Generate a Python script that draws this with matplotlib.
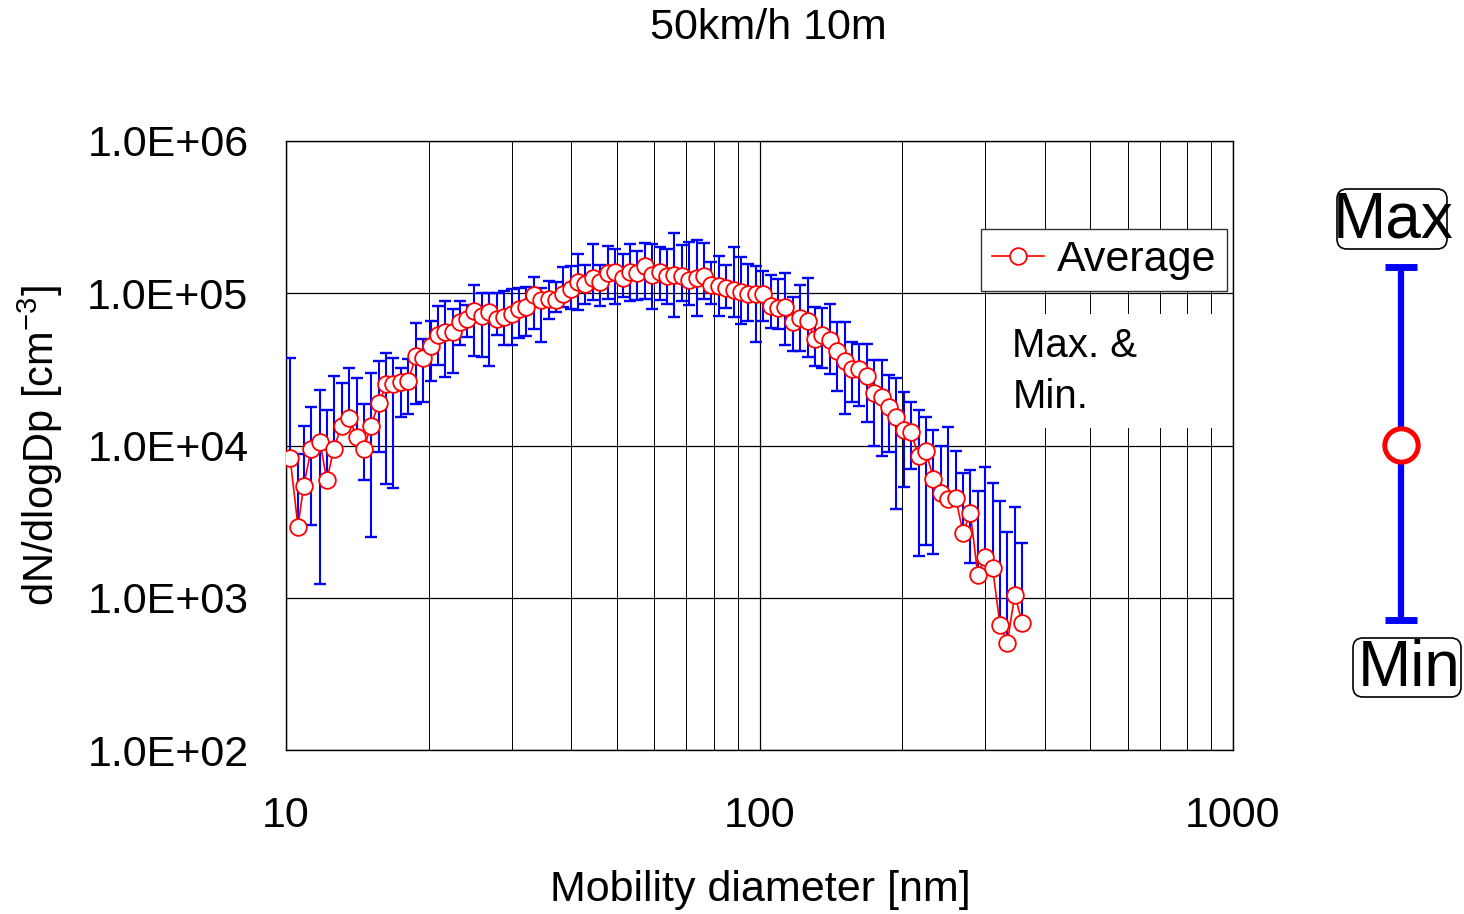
import matplotlib
matplotlib.use("Agg")
import matplotlib.pyplot as plt
from matplotlib.ticker import FixedLocator, FixedFormatter, LogLocator, NullLocator, NullFormatter
from matplotlib.patches import Rectangle, FancyBboxPatch
import numpy as np

plt.rcParams['font.family'] = ['Liberation Sans', 'DejaVu Sans']

# SMPS channel mid-points [nm]
diameter = [10.2, 10.6, 10.9, 11.3, 11.8, 12.2, 12.6, 13.1, 13.6, 14.1,
            14.6, 15.1, 15.7, 16.3, 16.8, 17.5, 18.1, 18.8, 19.5, 20.2,
            20.9, 21.7, 22.5, 23.3, 24.1, 25.0, 25.9, 26.9, 27.9, 28.9,
            30.0, 31.1, 32.2, 33.4, 34.6, 35.9, 37.2, 38.5, 40.0, 41.4,
            42.9, 44.5, 46.1, 47.8, 49.6, 51.4, 53.3, 55.2, 57.3, 59.4,
            61.5, 63.8, 66.1, 68.5, 71.0, 73.7, 76.4, 79.1, 82.0, 85.1,
            88.2, 91.4, 94.7, 98.2, 101.8, 105.5, 109.4, 113.4, 117.6, 121.9,
            126.3, 131.0, 135.8, 140.7, 145.9, 151.2, 156.8, 162.5, 168.5, 174.7,
            181.1, 187.7, 194.6, 201.7, 209.1, 216.7, 224.7, 232.9, 241.4, 250.3,
            259.5, 269.0, 278.8, 289.0, 299.6, 310.6, 322.0, 333.8, 346.0, 358.7]

# dN/dlogDp [cm-3]
average = [8340, 2930, 5460, 9420, 10500, 5890, 9420, 13500, 15100, 11300,
           9420, 13500, 18900, 25200, 25200, 26000, 26400, 38500, 37300, 44800,
           53000, 55400, 55400, 64500, 67400, 76100, 70600, 75000, 67400, 69500,
           72700, 78500, 80900, 97000, 89900, 91300, 89900, 98500, 106000, 118000,
           115000, 126000, 118000, 135000, 137000, 126000, 137000, 135000, 150000, 131000,
           137000, 129000, 131000, 129000, 122000, 126000, 129000, 113000, 111000, 108000,
           105000, 102000, 98500, 98500, 98500, 82100, 79700, 80900, 64500, 68500,
           65400, 49800, 53000, 49100, 41500, 35700, 31600, 31600, 28400, 22000,
           20700, 17800, 15300, 12700, 12200, 8470, 9140, 6070, 4910, 4480,
           4550, 2680, 3620, 1420, 1860, 1570, 664, 506, 1050, 685]

maximum = [37300, 8730, 13500, 17800, 23300, 17000, 28400, 25600, 32100, 27600,
           18600, 29800, 35700, 40300, 37300, 32100, 36800, 63500, 49800, 65400,
           82100, 88600, 78500, 88600, 83400, 112900, 100000, 100000, 100000, 103000,
           106000, 108000, 109500, 127000, 108000, 120000, 118000, 148000, 150000, 181000,
           153000, 210000, 153000, 204000, 195000, 181000, 210000, 189000, 213000, 210000,
           201000, 195000, 248000, 207000, 216000, 223000, 213000, 160000, 175000, 153000,
           201000, 173000, 155000, 150000, 140000, 131000, 124000, 135000, 94100, 113000,
           126000, 80900, 79700, 84700, 64500, 64500, 47600, 46200, 46200, 36200,
           36200, 28900, 27600, 22300, 19200, 17000, 15500, 12600, 10000, 13300,
           9140, 6550, 6950, 5060, 7170, 5710, 4350, 2720, 3970, 2300]

minimum = [7850, 2800, 5140, 3020, 1240, 5540, 9000, 12700, 14400, 10600,
           5890, 2520, 9000, 5620, 5290, 15300, 16200, 18600, 19200, 26400,
           33600, 28000, 29800, 45500, 51400, 38500, 37900, 33100, 53000, 45500,
           45500, 50600, 52100, 58000, 47600, 67400, 75000, 80900, 78500, 77300,
           84700, 89900, 82100, 91300, 84700, 94100, 88600, 89900, 91300, 78500,
           89900, 84700, 69500, 88600, 83400, 70600, 91300, 84700, 70600, 79700,
           69500, 62500, 65400, 47600, 65400, 58800, 58000, 45500, 41500, 41500,
           37900, 33100, 32100, 29300, 22700, 16200, 19200, 18300, 14200, 10000,
           8470, 9000, 3850, 5370, 7060, 1890, 2230, 1950, 4550, 4220,
           4280, 2520, 1700, 1330, 1780, 1500, 634, 483, 1000, 654]

x_ticks = [10, 100, 1000]
x_tick_labels = ["10", "100", "1000"]
y_ticks = [1e2, 1e3, 1e4, 1e5, 1e6]
y_tick_labels = ["1.0E+02", "1.0E+03", "1.0E+04", "1.0E+05", "1.0E+06"]

W, H = 1464, 914
fig = plt.figure(figsize=(W / 100, H / 100), dpi=100)
ax = fig.add_axes([286 / W, 1 - 750 / H, 947 / W, 609 / H])

avg = np.array(average)
err = [avg - np.array(minimum), np.array(maximum) - avg]

ax.errorbar(diameter, average, yerr=err, fmt='none', ecolor='#0000ff',
            elinewidth=1.5, capsize=4, capthick=1.7, zorder=3)
ax.plot(diameter, average, '-o', color='red', lw=1.2, ms=12,
        mfc='white', mec='red', mew=1.3, zorder=4, label='Average')

ax.set_xscale('log')
ax.set_yscale('log')
ax.set_xlim(10, 1000)
ax.set_ylim(1e2, 1e6)

ax.xaxis.set_major_locator(FixedLocator(x_ticks))
ax.xaxis.set_major_formatter(FixedFormatter(x_tick_labels))
ax.xaxis.set_minor_locator(LogLocator(base=10, subs=np.arange(2, 10)))
ax.xaxis.set_minor_formatter(NullFormatter())
ax.yaxis.set_major_locator(FixedLocator(y_ticks))
ax.yaxis.set_major_formatter(FixedFormatter(y_tick_labels))
ax.yaxis.set_minor_locator(NullLocator())

ax.grid(True, which='major', axis='both', color='black', lw=0.9)
ax.grid(True, which='minor', axis='x', color='black', lw=0.7)
ax.tick_params(which='both', length=0)
ax.tick_params(axis='x', pad=33, labelsize=31)
ax.tick_params(axis='y', pad=27, labelsize=31)
for s in ax.spines.values():
    s.set_color('black')
    s.set_linewidth(1.0)

# white panel behind the max/min note
ax.add_patch(Rectangle((0.749, 0.529), 0.248, 0.187, transform=ax.transAxes,
                       fc='white', ec='none', zorder=2))
ax.text(0.767, 0.694, "Max. &\nMin.", transform=ax.transAxes, fontsize=29,
        va='top', ha='left', linespacing=1.43, zorder=5)

leg = ax.legend(loc='upper right', bbox_to_anchor=(0.9937, 0.8555), borderaxespad=0,
                fontsize=31, fancybox=False, framealpha=1, edgecolor='#333333',
                handlelength=1.2, handletextpad=0.3, borderpad=0.25)
leg.get_frame().set_linewidth(1.0)

fig.text(768 / W, 1 - 28 / H, "50km/h 10m", fontsize=31, ha='center', va='center')
fig.text(760 / W, 1 - 890 / H, "Mobility diameter [nm]", fontsize=31, ha='center', va='center')
fig.text(40 / W, 1 - 446 / H, "dN/dlogDp [cm$^{\\mathregular{-3}}$]", fontsize=30,
         ha='center', va='center', rotation=90)

# key for the error bar meaning, drawn in pixel space on an overlay
key = fig.add_axes([0, 0, 1, 1], facecolor='none')
key.set_xlim(0, W)
key.set_ylim(H, 0)
key.axis('off')
key.plot([1401, 1401], [267, 620], color='#0000ff', lw=4.5, solid_capstyle='butt')
key.plot([1385, 1417], [267, 267], color='#0000ff', lw=5, solid_capstyle='butt')
key.plot([1385, 1417], [620, 620], color='#0000ff', lw=5, solid_capstyle='butt')
key.plot([1401], [445], 'o', ms=24, mfc='white', mec='red', mew=3.6)
key.add_patch(FancyBboxPatch((1337, 189), 110, 60, boxstyle='round,pad=0,rounding_size=10',
                             fc='white', ec='black', lw=1.2))
key.add_patch(FancyBboxPatch((1353, 638), 108, 59, boxstyle='round,pad=0,rounding_size=10',
                             fc='white', ec='black', lw=1.2))
key.text(1393, 221, "Max", fontsize=46, ha='center', va='center')
key.text(1409, 669, "Min", fontsize=46, ha='center', va='center')

fig.savefig("out.png", dpi=100)
